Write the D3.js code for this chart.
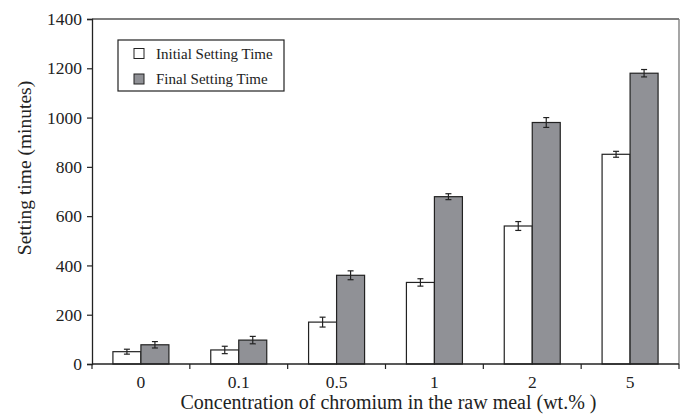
<!DOCTYPE html>
<html><head><meta charset="utf-8">
<script src="https://cdn.jsdelivr.net/npm/d3@7"></script>
<style>
body{margin:0;background:#fff;}
svg text{font-family:"Liberation Serif","Times New Roman",serif;fill:#222;}
</style></head>
<body><svg id="c" width="686" height="414"></svg>
<script>
const categories = ["0","0.1","0.5","1","2","5"];
const initialValues = [50, 57, 170, 331, 560, 851];
const initialErrors = [10, 15, 20, 15, 18, 12];
const finalValues = [78, 97, 360, 679, 980, 1180];
const finalErrors = [13, 15, 18, 12, 20, 15];
const yTicks = [0,200,400,600,800,1000,1200,1400];
const seriesNames = ["Initial Setting Time","Final Setting Time"];

const m = {l:92, r:7, t:19, b:50};
const W = 686, H = 414;
const svg = d3.select("#c");
const x = d3.scaleBand().domain(categories).range([m.l, W-m.r]).paddingInner(0).paddingOuter(0);
const y = d3.scaleLinear().domain([0,1400]).range([H-m.b, m.t]);
const sub = d3.scaleBand().domain([0,1]).range([0, 56]);
const colors = ["#ffffff","#909196"];
const series = [
  {vals: initialValues, errs: initialErrors},
  {vals: finalValues, errs: finalErrors}
];

// frame top & right
svg.append("line").attr("x1",m.l).attr("x2",W-m.r).attr("y1",m.t).attr("y2",m.t).attr("stroke","#555").attr("stroke-width",1.3);
svg.append("line").attr("x1",W-m.r).attr("x2",W-m.r).attr("y1",m.t).attr("y2",H-m.b).attr("stroke","#777").attr("stroke-width",1.3);

series.forEach((s,si)=>{
  const g = svg.append("g");
  categories.forEach((c,i)=>{
    const cx = x(c) + x.bandwidth()/2 - 28 + sub(si);
    g.append("rect").attr("x",cx).attr("y",y(s.vals[i])).attr("width",sub.bandwidth()).attr("height",y(0)-y(s.vals[i]))
      .attr("fill",colors[si]).attr("stroke","#222").attr("stroke-width",1.2);
    const ex = cx + sub.bandwidth()/2;
    const y1 = y(s.vals[i]+s.errs[i]), y2 = y(s.vals[i]-s.errs[i]);
    g.append("line").attr("x1",ex).attr("x2",ex).attr("y1",y1).attr("y2",y2).attr("stroke","#222").attr("stroke-width",1.2);
    [y1,y2].forEach(yy=>g.append("line").attr("x1",ex-3).attr("x2",ex+3).attr("y1",yy).attr("y2",yy).attr("stroke","#222").attr("stroke-width",1.2));
  });
});

// y axis
const ya = svg.append("g").attr("transform",`translate(${m.l},0)`).call(d3.axisLeft(y).tickValues(yTicks).tickSize(5).tickPadding(5).tickFormat(d3.format("d")));
ya.select(".domain").attr("stroke","#222").attr("stroke-width",1.3);
ya.selectAll(".tick line").attr("stroke","#222").attr("stroke-width",1.2);
ya.selectAll(".tick text").attr("font-size",17.5).attr("fill","#222");

// x axis with ticks at category boundaries
const xa = svg.append("g").attr("transform",`translate(0,${H-m.b})`);
xa.append("line").attr("x1",m.l).attr("x2",W-m.r).attr("stroke","#222").attr("stroke-width",1.5);
const bounds = categories.map(c=>x(c)).concat([x(categories[categories.length-1])+x.bandwidth()]);
bounds.forEach(b=>xa.append("line").attr("x1",b).attr("x2",b).attr("y1",0).attr("y2",5).attr("stroke","#222").attr("stroke-width",1.2));
categories.forEach(c=>xa.append("text").attr("x",x(c)+x.bandwidth()/2).attr("y",24).attr("text-anchor","middle").attr("font-size",17.5).text(c));

svg.append("text").attr("x",(m.l+W-m.r)/2 + 3).attr("y",409).attr("text-anchor","middle").attr("font-size",20).text("Concentration of chromium in the raw meal (wt.% )");
svg.append("text").attr("transform",`translate(31,168) rotate(-90)`).attr("text-anchor","middle").attr("font-size",19.5).text("Setting time (minutes)");

// legend
const lg = svg.append("g");
lg.append("rect").attr("x",118).attr("y",40).attr("width",166).attr("height",51).attr("fill","#fff").attr("stroke","#222").attr("stroke-width",1.2);
seriesNames.forEach((n,i)=>{
  const cy = 53.5 + i*25.5;
  lg.append("rect").attr("x",134).attr("y",cy-5).attr("width",10).attr("height",10).attr("fill",colors[i]).attr("stroke","#222").attr("stroke-width",1);
  lg.append("text").attr("x",156).attr("y",cy+5).attr("font-size",15).text(n);
});
</script></body></html>
